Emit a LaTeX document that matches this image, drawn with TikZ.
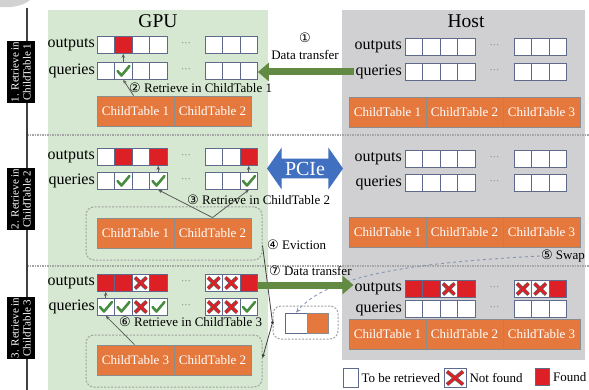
\documentclass[tikz,border=0pt]{standalone}
\usepackage{fontspec}
\setmainfont{Liberation Serif}
\newfontfamily\circfont{DejaVu Sans}
\usetikzlibrary{arrows.meta,shapes.arrows}

\definecolor{gpugreen}{RGB}{214,232,210}
\definecolor{hostgray}{RGB}{208,208,211}
\definecolor{ctorange}{RGB}{229,120,60}
\definecolor{cellline}{RGB}{95,105,140}
\definecolor{foundred}{RGB}{221,32,38}
\definecolor{checkgreen}{RGB}{72,140,64}
\definecolor{movegreen}{RGB}{98,138,66}
\definecolor{pcieblue}{RGB}{66,112,192}
\definecolor{swapblue}{RGB}{135,148,180}

\newcommand{\cnum}[1]{{\circfont #1}}

\tikzset{
  cellbox/.style={draw=cellline, fill=white, line width=0.7pt, minimum width=17.5pt, minimum height=17pt, inner sep=0pt},
  cell-e/.style={},
  cell-r/.style={fill=foundred},
  cell-c/.style={path picture={
    \draw[checkgreen, line width=2.6pt, line cap=round, line join=round]
      ([xshift=3pt,yshift=-8.5pt]path picture bounding box.north west)
      -- ([xshift=7pt,yshift=-13pt]path picture bounding box.north west)
      -- ([xshift=15pt,yshift=-3.5pt]path picture bounding box.north west);}},
  cell-x/.style={path picture={
    \draw[black!60, line width=3.8pt]
      ([xshift=3pt,yshift=-3pt]path picture bounding box.north west) -- ([xshift=-3pt,yshift=3pt]path picture bounding box.south east)
      ([xshift=3pt,yshift=3pt]path picture bounding box.south west) -- ([xshift=-3pt,yshift=-3pt]path picture bounding box.north east);
    \draw[foundred, line width=2.4pt]
      ([xshift=3pt,yshift=-3pt]path picture bounding box.north west) -- ([xshift=-3pt,yshift=3pt]path picture bounding box.south east)
      ([xshift=3pt,yshift=3pt]path picture bounding box.south west) -- ([xshift=-3pt,yshift=-3pt]path picture bounding box.north east);}},
  ctbox/.style={fill=ctorange, draw=black!45, line width=0.8pt, text=white, minimum width=77pt, minimum height=30pt, inner sep=0pt, font=\fontsize{13}{15}\selectfont},
  groupbox/.style={draw=gray!75, dash pattern=on 2pt off 1.5pt, line width=1pt, rounded corners=8pt, inner sep=0pt},
  rowlabel/.style={anchor=east, inner sep=1pt, font=\fontsize{16}{18}\selectfont},
  title/.style={font=\fontsize{19.5}{22}\selectfont},
  note/.style={inner sep=1pt, font=\fontsize{13}{15}\selectfont},
  dots/.style={text=gray, inner sep=0pt, font=\fontsize{10}{10}\selectfont},
  steplabel/.style={fill=black, text=white, rotate=90, align=center, inner xsep=1pt, inner ysep=4pt, font=\fontsize{11}{12}\selectfont},
  fetch/.style={draw=black!65, line width=0.8pt, -{Stealth[length=4pt,width=3.5pt]}},
  evict/.style={draw=black!75, line width=0.8pt, -{Stealth[length=4pt,width=3.5pt]}},
  move/.style={draw=movegreen, line width=7pt, -{Triangle[length=11pt,width=18pt]}},
  swapline/.style={draw=swapblue, dashed, line width=0.9pt, -{Stealth[length=5pt,width=4pt]}},
  pcie/.style={double arrow, fill=pcieblue, text=white, minimum height=76pt, double arrow head extend=11pt, double arrow tip angle=110, inner xsep=2pt, inner ysep=3pt, font=\fontsize{20}{22}\selectfont}
}

\newcommand{\cellrow}[5]{%
  \foreach \s [count=\i] in {#5}{
    \pgfmathsetmacro{\cx}{\i<5 ? #2+(\i-0.5)*17.5 : #3+(\i-4.5)*17.5}
    \node[cellbox, cell-\s] (#1\i) at (\cx,#4) {};
  }
  \node[dots] at ({(#2+70+#3)/2},#4) {···};
}

\begin{document}
\begin{tikzpicture}[x=1pt, y=-1pt]
  \useasboundingbox (0,0) rectangle (589,390);
  \fill[white] (0,0) rectangle (589,390);
  \fill[gray!35] (0,0) -- (30,0) .. controls (24,6) and (10,8) .. (0,7) -- cycle;

  \fill[gpugreen] (48,10) rectangle (268,390);
  \fill[hostgray] (342,10) rectangle (585,360);
  \draw[gray!70, line width=1.5pt, dash pattern=on 1.5pt off 1pt] (27,135) -- (589,135);
  \draw[gray!70, line width=1.5pt, dash pattern=on 1.5pt off 1pt] (27,266) -- (589,266);
  \draw[black!75, line width=1.4pt] (27,8) -- (27,390);

  \node[steplabel] (lab1) at (21,72) {1. Retrieve in\\ChildTable 1};
  \node[steplabel] (lab2) at (21,199) {2. Retrieve in\\ChildTable 2};
  \node[steplabel] (lab3) at (21,328) {3. Retrieve in\\ChildTable 3};

  \node[title] (gpu) at (158,21) {GPU};
  \node[title] (host) at (466,21) {Host};

  % stage 1
  \node[rowlabel] (gol1) at (96,45) {outputs};
  \node[rowlabel] (gql1) at (96,71) {queries};
  \node[rowlabel] (hol1) at (403,47) {outputs};
  \node[rowlabel] (hql1) at (403,72) {queries};
  \cellrow{go1}{97}{205}{45}{e,r,e,e,e,e,e}
  \cellrow{gq1}{97}{205}{71}{e,c,e,e,e,e,e}
  \cellrow{ho1}{405}{514}{47}{e,e,e,e,e,e,e}
  \cellrow{hq1}{405}{514}{72}{e,e,e,e,e,e,e}
  \node[ctbox] (gct11) at (135.5,111) {ChildTable 1};
  \node[ctbox] (gct12) at (212.5,111) {ChildTable 2};
  \node[ctbox] (hct11) at (387.5,112) {ChildTable 1};
  \node[ctbox] (hct12) at (464.5,112) {ChildTable 2};
  \node[ctbox] (hct13) at (541.5,112) {ChildTable 3};

  \draw[move] (hql1.west) -- (hql1.west -| gq17.east);
  \node[note] (n1) at (305,38) {\cnum{①}};
  \node[note] (dt1) at (305,55) {Data transfer};
  \draw[fetch] ([xshift=-2pt]gct11.north) -- (gq12.south);
  \draw[fetch] (gq12.north) -- (go12.south);
  \node[note, anchor=west] (rt1) at (128,88) {\cnum{②} Retrieve in ChildTable 1};

  % stage 2
  \node[rowlabel] (gol2) at (96,157) {outputs};
  \node[rowlabel] (gql2) at (96,181) {queries};
  \node[rowlabel] (hol2) at (403,159) {outputs};
  \node[rowlabel] (hql2) at (403,183) {queries};
  \cellrow{go2}{97}{205}{157}{e,r,e,r,e,e,r}
  \cellrow{gq2}{97}{205}{181}{e,c,e,c,e,e,c}
  \cellrow{ho2}{405}{514}{159}{e,e,e,e,e,e,e}
  \cellrow{hq2}{405}{514}{183}{e,e,e,e,e,e,e}
  \node[groupbox, minimum width=176pt, minimum height=53pt] (grp2) at (174,233.5) {};
  \node[ctbox] (gct21) at (135.5,233) {ChildTable 1};
  \node[ctbox] (gct22) at (212.5,233) {ChildTable 2};
  \node[ctbox] (hct21) at (387.5,232) {ChildTable 1};
  \node[ctbox] (hct22) at (464.5,232) {ChildTable 2};
  \node[ctbox] (hct23) at (541.5,232) {ChildTable 3};

  \node[pcie] (pcie) at (305,168.5) {PCIe};
  \draw[fetch] (gct22.north) -- (gq24.south);
  \draw[fetch] (gct22.north) -- (gq27.south);
  \draw[fetch] (gq24.north) -- (go24.south);
  \draw[fetch] (gq27.north) -- (go27.south);
  \node[note, anchor=west] (rt2) at (186,200) {\cnum{③} Retrieve in ChildTable 2};

  % stage 3
  \node[rowlabel] (gol3) at (96,283) {outputs};
  \node[rowlabel] (gql3) at (96,307) {queries};
  \node[rowlabel] (hol3) at (403,289) {outputs};
  \node[rowlabel] (hql3) at (403,309) {queries};
  \cellrow{go3}{97}{205}{283}{r,r,x,r,x,x,r}
  \cellrow{gq3}{97}{205}{307}{c,c,x,c,x,x,c}
  \cellrow{ho3}{405}{514}{289}{r,r,x,r,x,x,r}
  \cellrow{hq3}{405}{514}{309}{e,e,e,e,e,e,e}
  \node[groupbox, minimum width=176pt, minimum height=52pt] (grp3) at (174,361) {};
  \node[ctbox] (gct31) at (135.5,360) {ChildTable 3};
  \node[ctbox] (gct32) at (212.5,360) {ChildTable 2};
  \node[ctbox] (hct31) at (387.5,334) {ChildTable 1};
  \node[ctbox] (hct32) at (464.5,334) {ChildTable 2};
  \node[ctbox] (hct33) at (541.5,334) {ChildTable 3};

  \draw[fetch] ([xshift=-1pt]gct31.north) -- (gq31.south);
  \draw[fetch] (gq31.north) -- (go31.south);
  \node[note, anchor=west] (rt3) at (118,322) {\cnum{⑥} Retrieve in ChildTable 3};

  \node[groupbox, minimum width=65pt, minimum height=33pt] (swapbox) at (305.5,322.5) {};
  \node[cellbox, minimum width=22pt, minimum height=20pt] (swapfree) at (296,323) {};
  \node[ctbox, minimum width=21pt, minimum height=20pt] (swapct) at (317.5,323) {};

  \coordinate (evjoint) at (swapbox.west);
  \draw[evict] ([yshift=-12pt]grp2.east) -- (evjoint) -- ([yshift=3pt]grp3.east);
  \fill[black!75] (evjoint) circle (1.6pt);
  \node[note, anchor=west] (ev) at (266,245) {\cnum{④} Eviction};

  \node[note, anchor=east] (swaplbl) at (586,256) {\cnum{⑤} Swap};
  \draw[swapline] (swaplbl.west) .. controls (430,262) and (330,272) .. (swapfree.north);

  \draw[move] ([yshift=-2pt]go37.east) -- ([yshift=-2pt]go37.east -| hol3.west);
  \node[note, anchor=west] (dt3) at (268,271) {\cnum{⑦} Data transfer};

  % legend
  \node[cellbox, minimum width=15pt, minimum height=19pt] (lege) at (350.5,378) {};
  \node[note, anchor=west] (legetext) at ([xshift=2pt]lege.east) {To be retrieved};
  \node[cellbox, cell-x, minimum width=22pt, minimum height=19pt] (legx) at (455,378) {};
  \node[note, anchor=west] (legxtext) at ([xshift=2pt]legx.east) {Not found};
  \node[cellbox, cell-r, minimum width=14pt, minimum height=17pt] (legr) at (542.5,377) {};
  \node[note, anchor=west] (legrtext) at ([xshift=2pt]legr.east) {Found};
\end{tikzpicture}
\end{document}
